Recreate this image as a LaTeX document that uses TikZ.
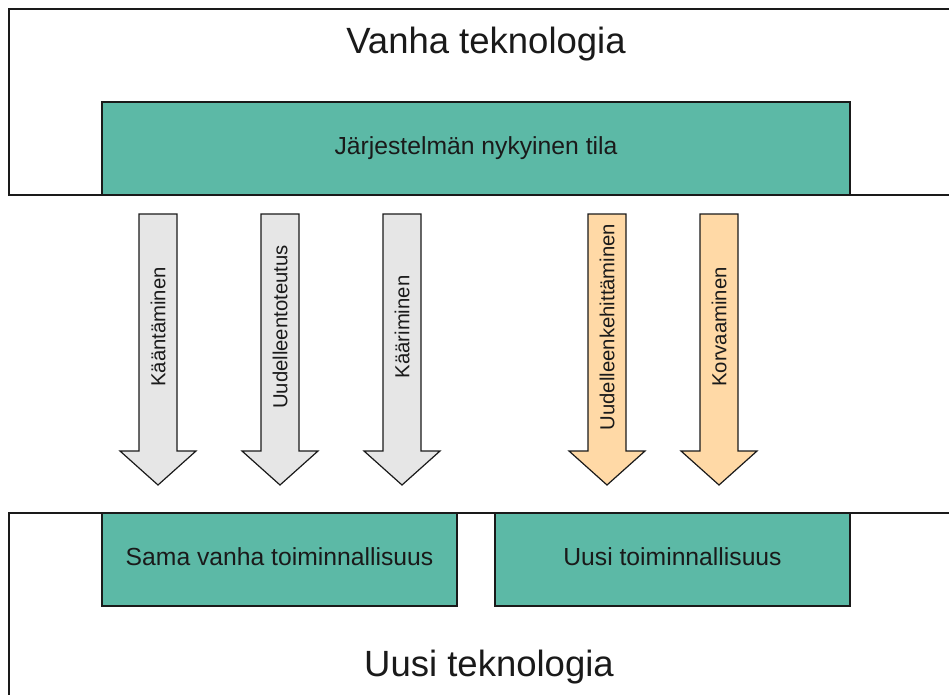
\documentclass[tikz,border=0pt]{standalone}
\usepackage{fontspec}
\setmainfont{Liberation Sans}
\usepackage{tikz}
\usetikzlibrary{positioning}
\definecolor{tealbox}{HTML}{5CB9A6}
\definecolor{greyarrow}{HTML}{E6E6E6}
\definecolor{peacharrow}{HTML}{FFD9A6}
\definecolor{edgeline}{HTML}{1A1A1A}

\tikzset{
  layer/.style={draw=edgeline, line width=1.3pt, fill=white,
    inner sep=0pt, outer sep=0pt},
  statebox/.style={draw=edgeline, line width=1.3pt, fill=tealbox,
    inner sep=0pt, outer sep=0pt, text=edgeline,
    font=\fontsize{24.7}{28}\selectfont,
    text height=18pt, text depth=5.4pt},
  layertitle/.style={text=edgeline, inner sep=0pt,
    font=\fontsize{36.5}{40}\selectfont},
  blockarrow/.style={draw=edgeline, line width=1.2pt, line join=miter},
  arrowlabel/.style={rotate=90, text=edgeline, inner sep=0pt,
    font=\fontsize{20.3}{24}\selectfont},
}

\begin{document}
\begin{tikzpicture}[x=1pt, y=-1pt]
  \clip (0,0) rectangle (949,695);

  % old technology layer
  \node[layer, minimum width=953pt, minimum height=186pt] (oldtech) at (485.5,102) {};
  \node[layertitle, anchor=base] (oldtitle) at (486,54) {Vanha teknologia};
  \node[statebox, minimum width=748pt, minimum height=93pt] (state) at (476,148.5)
    {Järjestelmän nykyinen tila};

  % new technology layer
  \node[layer, minimum width=953pt, minimum height=287pt] (newtech) at (485.5,656.5) {};
  \node[layertitle, anchor=base] (newtitle) at (489,676) {Uusi teknologia};
  \node[statebox, minimum width=355pt, minimum height=93pt] (samefunc) at (279.5,559.5)
    {Sama vanha toiminnallisuus};
  \node[statebox, minimum width=355pt, minimum height=93pt] (newfunc) at (672.5,559.5)
    {Uusi toiminnallisuus};

  % migration arrows
  \draw[blockarrow, fill=greyarrow] (139,214) -- (177,214) -- (177,451) -- (196,451)
    -- (158,485) -- (120,451) -- (139,451) -- cycle;
  \node[arrowlabel] (kaant) at (158,327) {Kääntäminen};

  \draw[blockarrow, fill=greyarrow] (261,214) -- (299,214) -- (299,451) -- (318,451)
    -- (280,485) -- (242,451) -- (261,451) -- cycle;
  \node[arrowlabel] (toteutus) at (280,327) {Uudelleentoteutus};

  \draw[blockarrow, fill=greyarrow] (383,214) -- (421,214) -- (421,451) -- (440,451)
    -- (402,485) -- (364,451) -- (383,451) -- cycle;
  \node[arrowlabel] (kaar) at (402,327) {Kääriminen};

  \draw[blockarrow, fill=peacharrow] (588,214) -- (626,214) -- (626,451) -- (645,451)
    -- (607,485) -- (569,451) -- (588,451) -- cycle;
  \node[arrowlabel] (kehitys) at (607,327) {Uudelleenkehittäminen};

  \draw[blockarrow, fill=peacharrow] (700,214) -- (738,214) -- (738,451) -- (757,451)
    -- (719,485) -- (681,451) -- (700,451) -- cycle;
  \node[arrowlabel] (korvaus) at (719,327) {Korvaaminen};
\end{tikzpicture}
\end{document}
